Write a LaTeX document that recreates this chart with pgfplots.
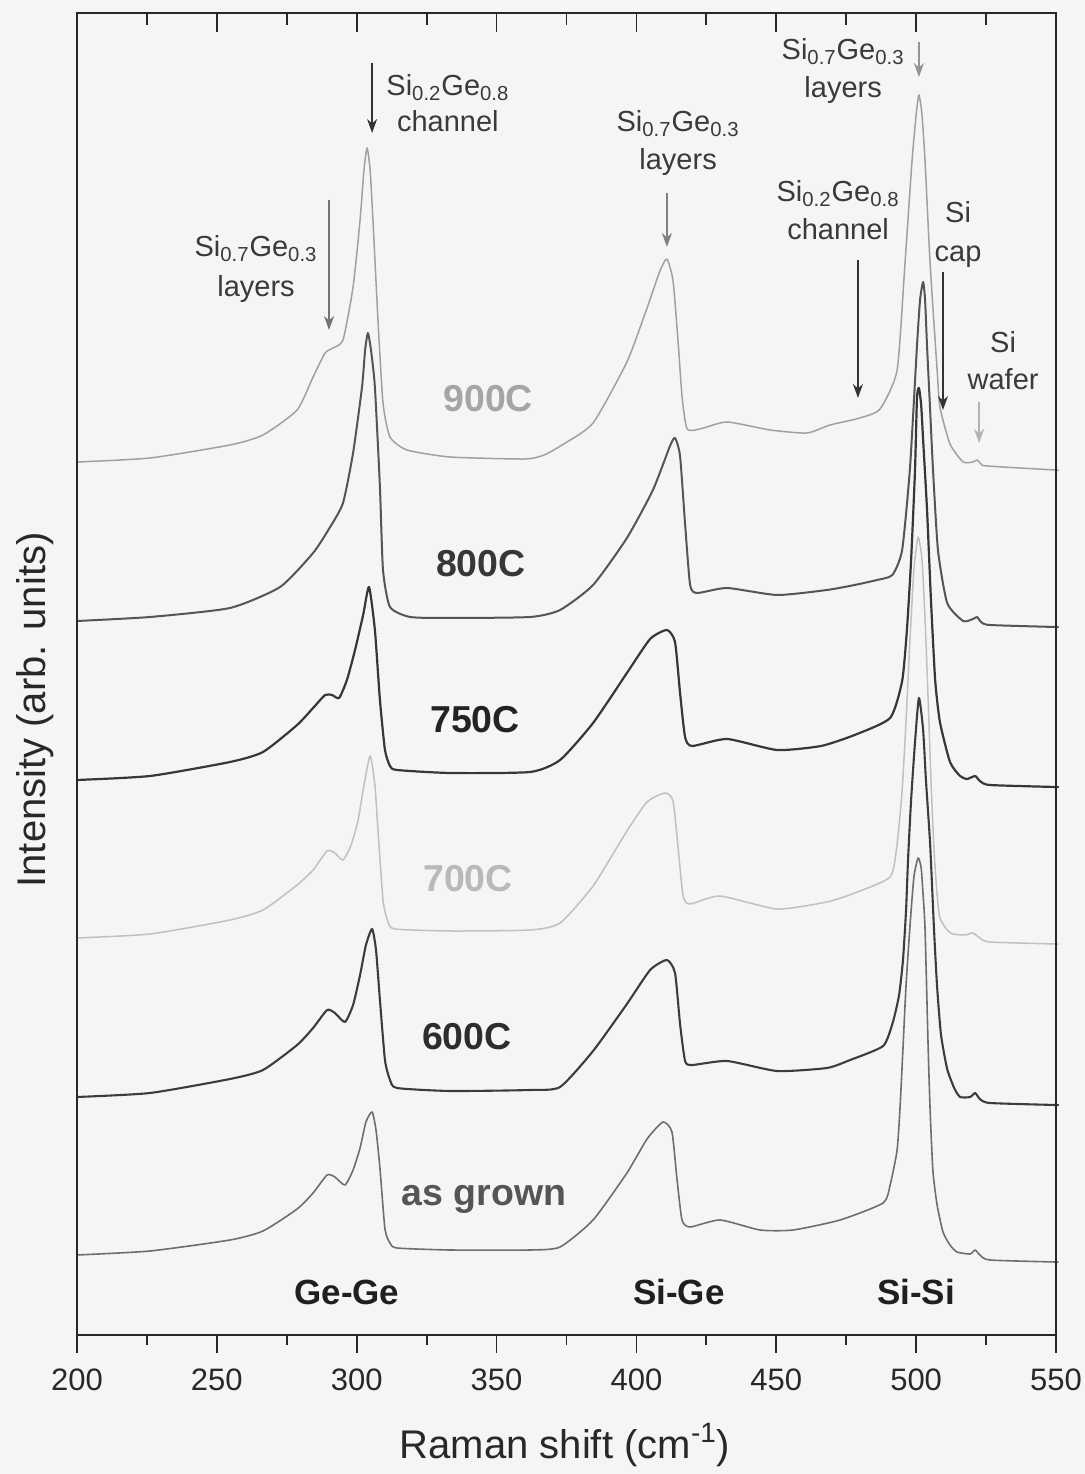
\documentclass[border=0pt]{standalone}
\usepackage{fontspec}
\setmainfont{Liberation Sans}
\usepackage{pgfplots}
\pgfplotsset{compat=1.18}
\usetikzlibrary{arrows.meta}
\definecolor{bgc}{RGB}{245,245,245}
\definecolor{axc}{RGB}{40,40,40}
\definecolor{txt}{RGB}{58,58,58}
\definecolor{c900}{RGB}{160,160,160}
\definecolor{l900}{RGB}{165,165,165}
\definecolor{c800}{RGB}{85,85,85}
\definecolor{l800}{RGB}{55,55,55}
\definecolor{c750}{RGB}{55,55,55}
\definecolor{l750}{RGB}{35,35,35}
\definecolor{c700}{RGB}{192,192,192}
\definecolor{l700}{RGB}{185,185,185}
\definecolor{c600}{RGB}{60,60,60}
\definecolor{l600}{RGB}{45,45,45}
\definecolor{cag}{RGB}{110,110,110}
\definecolor{lag}{RGB}{85,85,85}
\begin{document}
\begin{tikzpicture}
\fill[bgc] (-38.5pt,-69.5pt) rectangle (504pt,667.5pt);
\begin{axis}[
  name=ax, at={(0,0)}, anchor=south west,
  scale only axis, width=489.5pt, height=661pt,
  xmin=200, xmax=550, ymin=0, ymax=1322,
  xtick={200,250,...,550}, minor xtick={225,275,...,525},
  xtick pos=left, ytick=\empty,
  tick align=outside, major tick length=9pt, minor tick length=5pt,
  axis line style={line width=1.2pt, color=axc},
  every tick/.style={line width=0.9pt, color=axc},
  /pgf/number format/assume math mode=true,
  ticklabel style={font=\fontsize{15.5}{18}\selectfont, text=axc},
  xticklabel style={yshift=-4.5pt},
  xlabel={Raman shift (cm\textsuperscript{-1})},
  ylabel={Intensity (arb. units)},
  label style={font=\fontsize{20}{24}\selectfont, text=axc},
  xlabel style={at={(axis description cs:0.4985,-0.0832)}, anchor=center},
  ylabel style={at={(axis description cs:-0.0429,0.4728)}, anchor=center},
  clip=false, line join=round, no markers,
  every axis plot/.append style={smooth, tension=0.35},
]
% 700C
\addplot[color=c700, line width=0.75pt] coordinates {
(200,397)(226.1,401)(254.7,415)(266.5,425)(278.7,450)(284.4,465)(289.4,484)(292.2,482)(295.1,475)(298.0,490)(300.5,515)(302.6,550)(304.8,579)(306.5,550)(307.6,505)(309.4,435)(311.2,413)(313.7,406)(333.4,404)(362.0,405)(372.7,412)(384.5,449)(396.6,504)(403.8,533)(410.2,542)(413.1,534)(414.9,487)(416.7,439)(419.2,431)(429.9,439)(450.3,426)(468.1,433)(478,442)(490.7,458)(493.2,491)(495.0,545)(496.4,615)(497.8,695)(499.2,765)(500.7,798)(502.1,775)(503.2,715)(504.3,635)(505.3,555)(506.4,485)(507.5,440)(508.5,417)(511.1,405)(513.2,401)(517.5,400)(520.3,402)(522.8,397)(526.4,393)(549.7,391)(550,391)};
% 900C
\addplot[color=c900, line width=0.75pt] coordinates {
(200,873)(226.1,877)(254.7,890)(266.5,900)(278.7,925)(284.4,958)(288.7,982)(291.5,987)(295.1,995)(298.7,1048)(301.2,1115)(302.6,1165)(303.7,1187)(304.8,1165)(305.8,1115)(307.6,1015)(309.4,932)(311.9,898)(318.0,885)(333.4,878)(360,876)(367,880)(374,891)(384.5,912)(396.6,973)(403.8,1027)(408.4,1064)(410.9,1076)(413.1,1054)(414.9,993)(416.3,939)(418.1,906)(422.7,906)(432.4,913)(447.8,905)(461.0,902)(469.2,910)(479.9,917)(487.1,926)(493.2,965)(496.0,1071)(498.5,1173)(500.0,1220)(501.0,1240)(502.1,1220)(503.2,1173)(505.0,1071)(507.5,965)(508.5,928)(512.1,891)(516.8,873)(520.3,873)(521.8,875)(523.2,871)(525.4,869)(549.7,865)(550,865)};
% as grown
\addplot[color=cag, line width=0.8pt] coordinates {
(200,80)(226.1,84)(254.7,95)(266.5,104)(278.7,126)(284.4,142)(289.4,160)(292.2,158)(295.8,150)(298.7,165)(301.2,187)(303.3,213)(305.5,223)(306.9,205)(308.3,167)(310.1,106)(311.9,92)(314.4,87)(333.4,85)(362.0,85)(372.7,88)(384.5,115)(396.6,162)(403.8,196)(409.5,213)(412.7,203)(414.5,156)(416.3,115)(419.2,108)(429.9,115)(444.2,105)(456.0,105)(472.8,115)(488.2,132)(490.7,150)(493.2,185)(494.3,230)(495.3,287)(496.4,350)(497.8,409)(499.2,458)(500.7,477)(501.8,467)(502.5,440)(503.2,405)(504.3,287)(505.0,225)(506.0,164)(507.5,130)(509.6,103)(512.1,90)(514.6,83)(519.3,81)(521.1,85)(522.8,80)(526.4,75)(549.7,73)(550,73)};
% 800C
\addplot[color=c800, line width=1pt] coordinates {
(200,714)(226.1,718)(254.7,727)(272.6,748)(284.4,782)(290.5,808)(295.1,832)(298.7,882)(301.9,948)(303.0,985)(304.0,1002)(305.1,985)(306.5,948)(308.3,848)(309.4,765)(311.9,728)(319.1,718)(333.4,717)(362.0,718)(372.7,725)(384.5,750)(396.6,797)(405.9,845)(412.0,889)(413.8,897)(415.6,879)(417.4,811)(419.2,750)(421.7,742)(432.4,747)(450.3,740)(468.1,745)(478,750)(486,755)(491.5,760)(495.0,785)(497.8,867)(500.3,989)(501.4,1035)(502.5,1053)(503.2,1035)(503.9,989)(505.0,925)(506.0,867)(507.8,785)(511.1,732)(516.8,714)(520.3,716)(521.8,718)(523.2,713)(526.4,710)(549.7,708)(550,708)};
% 600C
\addplot[color=c600, line width=1.05pt] coordinates {
(200,238)(226.1,242)(254.7,256)(266.5,265)(278.7,290)(284.4,307)(289.4,325)(292.2,322)(295.8,313)(298.7,330)(301.2,360)(303.3,390)(305.5,406)(306.9,385)(308.3,335)(310.1,275)(311.9,255)(314.4,247)(333.4,244)(362.0,245)(372.7,248)(384.5,284)(396.6,331)(404.9,365)(410.9,375)(413.8,362)(415.6,311)(417.4,274)(419.9,270)(432.4,274)(450.3,264)(468.1,267)(476.4,275)(488.2,289)(491.7,313)(493.9,340)(495.3,375)(496.4,425)(497.1,475)(498.2,535)(499.6,593)(501.0,637)(502.5,605)(503.5,555)(505.0,491)(506.4,405)(507.5,348)(508.9,300)(511.1,266)(513.6,247)(515.7,238)(519.3,238)(521.1,242)(522.8,236)(526.4,232)(549.7,230)(550,230)};
% 750C
\addplot[color=c750, line width=1.1pt] coordinates {
(200,555)(226.1,559)(254.7,573)(266.5,583)(278.7,610)(284.4,627)(288.7,640)(291.2,640)(293.7,637)(296.5,655)(299.4,685)(302.3,720)(304.4,748)(306.5,705)(308.3,635)(310.1,585)(311.9,569)(314.4,565)(333.4,562)(362.0,563)(372.7,575)(384.5,612)(396.6,662)(404.9,696)(410.9,705)(413.8,693)(415.6,642)(417.4,598)(419.9,589)(432.4,596)(450.3,585)(466,589)(478,600)(490.7,617)(495.0,654)(496.7,705)(498.2,775)(499.6,865)(500.3,937)(501.0,947)(501.8,930)(502.5,895)(503.9,825)(505.3,735)(506.8,655)(508.5,613)(512.1,573)(515.7,559)(518.2,556)(521.1,559)(522.8,554)(526.4,550)(549.7,548)(550,548)};

% temperature labels
\node[anchor=base, text=l900, font=\fontsize{18.75}{22}\selectfont\bfseries] at (axis cs:347,923) {900C};
\node[anchor=base, text=l800, font=\fontsize{18.75}{22}\selectfont\bfseries] at (axis cs:344.4,758) {800C};
\node[anchor=base, text=l750, font=\fontsize{18.75}{22}\selectfont\bfseries] at (axis cs:342.3,602) {750C};
\node[anchor=base, text=l700, font=\fontsize{18.75}{22}\selectfont\bfseries] at (axis cs:339.8,443) {700C};
\node[anchor=base, text=l600, font=\fontsize{18.75}{22}\selectfont\bfseries] at (axis cs:339.4,285) {600C};
\node[anchor=base, text=lag, font=\fontsize{18.75}{22}\selectfont\bfseries] at (axis cs:345.5,130) {as grown};

% bond labels
\node[anchor=base, text=black!88, font=\fontsize{17.5}{20}\selectfont\bfseries] at (axis cs:296.5,31) {Ge-Ge};
\node[anchor=base, text=black!88, font=\fontsize{17.5}{20}\selectfont\bfseries] at (axis cs:415.2,31) {Si-Ge};
\node[anchor=base, text=black!88, font=\fontsize{17.5}{20}\selectfont\bfseries] at (axis cs:500.0,31) {Si-Si};

% annotations
\begin{scope}[every node/.style={anchor=base, text=txt, font=\fontsize{14.5}{17}\selectfont, inner sep=0pt}]
\node at (axis cs:332.6,1239) {Si\textsubscript{0.2}Ge\textsubscript{0.8}};
\node at (axis cs:332.6,1203) {channel};
\node at (axis cs:264.0,1078) {Si\textsubscript{0.7}Ge\textsubscript{0.3}};
\node at (axis cs:264.0,1038) {layers};
\node at (axis cs:414.9,1203) {Si\textsubscript{0.7}Ge\textsubscript{0.3}};
\node at (axis cs:414.9,1165) {layers};
\node at (axis cs:473.9,1275) {Si\textsubscript{0.7}Ge\textsubscript{0.3}};
\node at (axis cs:473.9,1237) {layers};
\node at (axis cs:472.1,1133) {Si\textsubscript{0.2}Ge\textsubscript{0.8}};
\node at (axis cs:472.1,1095) {channel};
\node at (axis cs:515.0,1112) {Si};
\node at (axis cs:515.0,1073) {cap};
\node at (axis cs:531.1,982) {Si};
\node at (axis cs:531.1,945) {wafer};
\end{scope}
\begin{scope}[line width=0.7pt, -{Stealth[length=7pt,width=5pt]}]
\draw[black!80] (axis cs:305.5,1272) -- (axis cs:305.5,1202);
\draw[black!55] (axis cs:290.1,1135) -- (axis cs:290.1,1005);
\draw[black!50] (axis cs:410.9,1142) -- (axis cs:410.9,1088);
\draw[black!42] (axis cs:501.0,1293) -- (axis cs:501.0,1258);
\draw[black!80] (axis cs:479.2,1075) -- (axis cs:479.2,937);
\draw[black!80] (axis cs:509.6,1063) -- (axis cs:509.6,925);
\draw[black!30] (axis cs:522.5,933) -- (axis cs:522.5,892);
\end{scope}
\end{axis}
% top ticks, pointing inward
\begin{axis}[
  at={(0,0)}, anchor=south west,
  scale only axis, width=489.5pt, height=661pt,
  xmin=200, xmax=550, ymin=0, ymax=1322,
  xtick={200,250,...,550}, minor xtick={225,275,...,525},
  xtick pos=right, ytick=\empty, xticklabels={},
  tick align=inside, major tick length=9.5pt, minor tick length=6pt,
  axis line style={line width=1.2pt, color=axc},
  every tick/.style={line width=0.9pt, color=axc},
]
\end{axis}
\pgfresetboundingbox
\path (-38.5pt,-69.5pt) rectangle (504pt,667.5pt);
\end{tikzpicture}
\end{document}
